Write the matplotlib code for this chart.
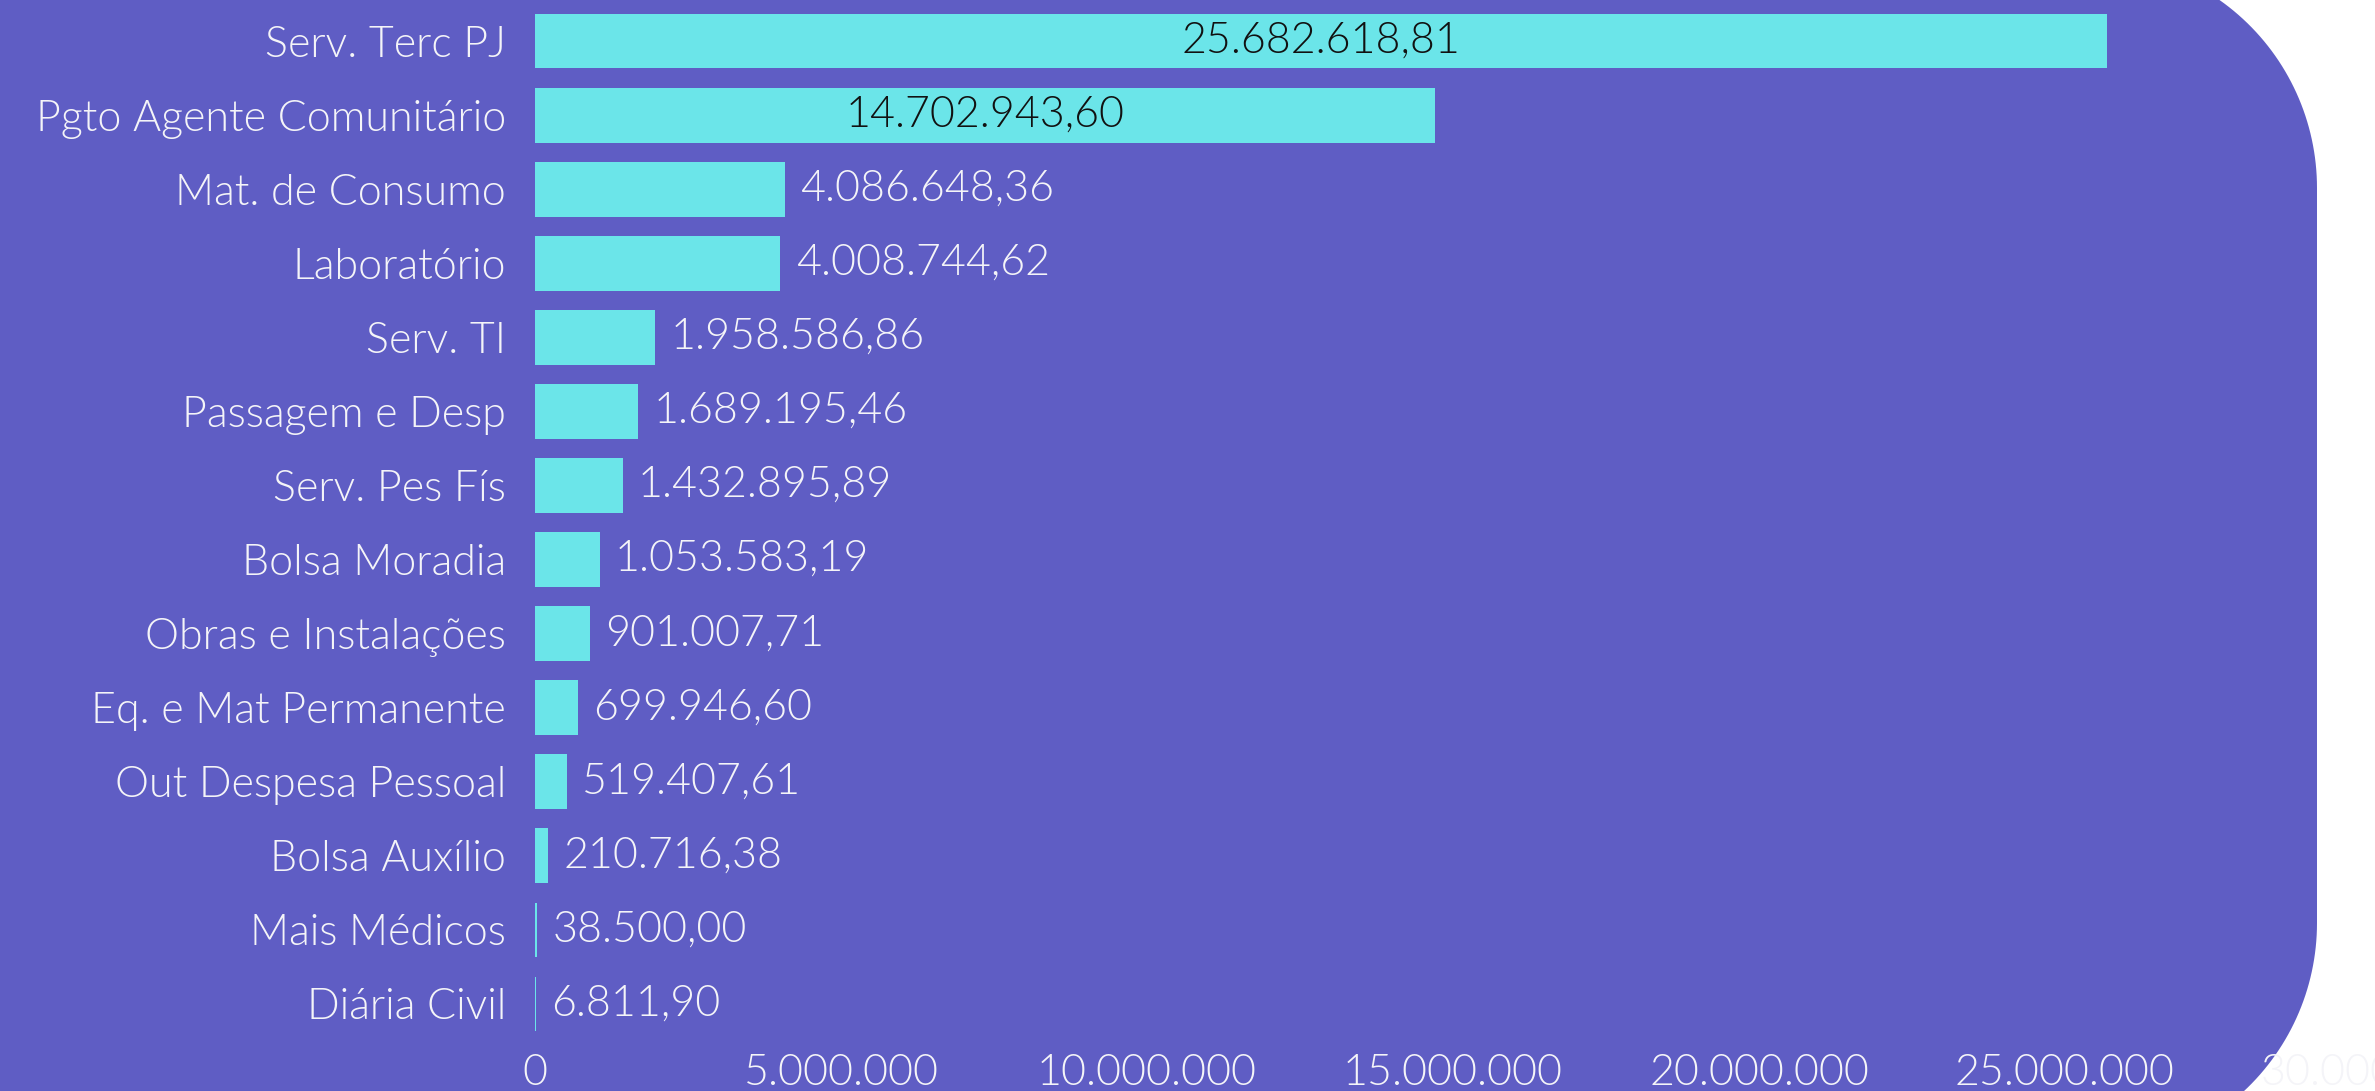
import numpy as np
import matplotlib.pyplot as plt
from matplotlib.patches import Polygon
from matplotlib.ticker import FuncFormatter

# Data
categories = [
    'Serv. Terc PJ',
    'Pgto Agente Comunitário',
    'Mat. de Consumo',
    'Laboratório',
    'Serv. TI',
    'Passagem e Desp',
    'Serv. Pes Fís',
    'Bolsa Moradia',
    'Obras e Instalações',
    'Eq. e Mat Permanente',
    'Out Despesa Pessoal',
    'Bolsa Auxílio',
    'Mais Médicos',
    'Diária Civil',
]
values = [25682618.81, 14702943.60, 4086648.36, 4008744.62, 1958586.86,
          1689195.46, 1432895.89, 1053583.19, 901007.71, 699946.60,
          519407.61, 210716.38, 38500.00, 6811.90]
x_ticks = [0, 5000000, 10000000, 15000000, 20000000, 25000000, 30000000]

purple = '#5f5dc4'
cyan = '#6be5e9'
light = '#f4f4f8'


def br_money(v):
    s = f'{v:,.2f}'
    return s.replace(',', 'X').replace('.', ',').replace('X', '.')


def br_int(v, pos=None):
    return f'{v:,.0f}'.replace(',', '.')


def rounded_rect(x0, y0, x1, y1, r, n=60):
    # corner centres, going counter-clockwise from bottom-right
    pts = []
    corners = [(x1 - r, y0 + r, -90), (x1 - r, y1 - r, 0),
               (x0 + r, y1 - r, 90), (x0 + r, y0 + r, 180)]
    for cx, cy, a0 in corners:
        t = np.radians(np.linspace(a0, a0 + 90, n))
        pts.extend(zip(cx + r * np.cos(t), cy + r * np.sin(t)))
    return pts


plt.rcParams['font.family'] = ['Lato', 'DejaVu Sans']
plt.rcParams['font.weight'] = 300

fig = plt.figure(figsize=(23.75, 10.91), dpi=100, facecolor='white')

# purple rounded card behind the chart (in inches, so corners stay circular)
card = Polygon(rounded_rect(-3, -0.62, 23.17, 11.33, 2.3), closed=True,
               transform=fig.dpi_scale_trans, facecolor=purple,
               edgecolor='none', zorder=-10)
fig.patches.append(card)

ax = fig.add_axes([0.2253, 0.0458, 0.773, 0.9505])
ax.set_facecolor('none')

y_pos = list(range(len(categories)))
ax.barh(y_pos, values, height=0.74, color=cyan, zorder=2)

ax.set_xlim(0, 30000000)
ax.set_ylim(len(categories) - 0.5, -0.5)
ax.set_yticks(y_pos)
ax.set_yticklabels(categories)
ax.set_xticks(x_ticks)
ax.xaxis.set_major_formatter(FuncFormatter(br_int))

for s in ax.spines.values():
    s.set_visible(False)
ax.tick_params(axis='y', length=0, pad=21, labelsize=31, labelcolor=light)
ax.tick_params(axis='x', length=0, pad=9, labelsize=31, labelcolor=light)

# value labels
for i, v in enumerate(values):
    if v > 10000000:
        ax.text(v / 2, i, br_money(v), ha='center', va='center',
                fontsize=31, color='#111111', zorder=3)
    else:
        ax.annotate(br_money(v), (v, i), xytext=(11, 0),
                    textcoords='offset points', ha='left', va='center',
                    fontsize=31, color=light, zorder=3)

fig.savefig('out.png', dpi=100, facecolor='white')
